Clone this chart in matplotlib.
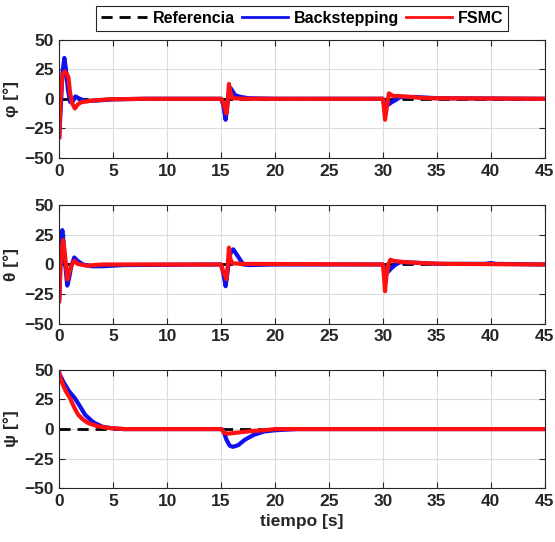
import matplotlib
matplotlib.use('Agg')
import matplotlib.pyplot as plt

plt.rcParams['font.family'] = ['Liberation Sans', 'DejaVu Sans']
plt.rcParams['font.weight'] = 'bold'

# phi
phi_bs_t = [0, 0.15, 0.3, 0.47, 0.6, 0.8, 1.0, 1.2, 1.5, 1.9, 2.5, 3.5, 5, 8, 15, 15.2, 15.42, 15.55, 15.7, 15.9, 16.3, 16.75, 17.5, 20, 30, 30.1, 30.25, 30.5, 30.8, 31.2, 31.6, 33, 35, 45]
phi_bs_y = [-32, -5, 22, 34.5, 26, 8, -2.5, -3, 2, 0, -2, -1.5, -0.5, 0, 0, -5, -17.7, -8, 5, 8.8, 3, 1.7, 0.5, 0, 0, -3, -6.8, -5, -3, -1, 1.5, 1.5, 0.5, 0]
phi_fs_t = [0, 0.12, 0.3, 0.5, 0.7, 0.85, 1.0, 1.2, 1.45, 1.7, 2.0, 3.0, 4.5, 8, 15, 15.2, 15.5, 15.6, 15.73, 15.85, 16.04, 17, 30, 30.1, 30.2, 30.35, 30.56, 30.9, 32, 34, 45]
phi_fs_y = [-32.5, 0, 20, 23, 21, 18, 5, -4, -8.2, -5, -3, -1.5, -0.5, 0, 0, -3, -12.5, -4, 12.5, 6, 0.5, 0, 0, -8, -17.7, -8, 4.6, 2.5, 2, 0.5, 0]

# theta
th_bs_t = [0, 0.1, 0.28, 0.4, 0.55, 0.74, 0.9, 1.1, 1.39, 1.7, 2.2, 3.0, 4.0, 6, 15, 15.2, 15.42, 15.55, 15.75, 15.9, 16.13, 17.06, 17.6, 20, 30, 30.1, 30.2, 30.5, 30.8, 31.2, 31.6, 33, 35, 39.5, 40, 40.5, 45]
th_bs_y = [-28, 0, 29, 18, 0, -17.8, -12, -2, 5.9, 3, 0, -1.5, -1.5, -0.5, 0, -7, -18.4, -10, 5, 10, 12.8, 0, -0.5, 0, 0, -3, -8, -6, -3, 0, 2, 1.5, 0.5, 0.5, 1.2, 0.5, 0]
th_fs_t = [0, 0.1, 0.25, 0.37, 0.5, 0.77, 0.95, 1.15, 1.4, 1.7, 2.5, 4, 15, 15.15, 15.5, 15.6, 15.73, 15.85, 16.04, 17, 30, 30.1, 30.2, 30.3, 30.5, 30.7, 31, 32, 34, 36, 45]
th_fs_y = [-31, -5, 15, 20.6, 10, -12.8, -6, 0, 3, 0.5, -1, 0, 0, -5, -12.3, -3, 14.2, 5, 1, 0.5, 0, -10, -22.6, -12, 0, 4, 3, 2, 1, 0.5, 0]

# psi
psi_bs_t = [0, 0.37, 0.9, 1.45, 2.0, 2.4, 3.0, 3.3, 4.0, 5, 6, 15, 15.2, 15.5, 15.8, 16.1, 16.6, 17.2, 18, 19, 20, 22, 45]
psi_bs_y = [47, 40, 32, 26, 18, 12, 7, 5, 2, 0.5, 0, 0, -1, -9, -14, -15, -13.5, -9, -5, -2, -1, 0, 0]
psi_fs_t = [0, 0.22, 0.6, 1.0, 1.4, 1.76, 2.2, 2.7, 3.5, 4.5, 6, 15, 15.3, 15.6, 16, 17, 18, 19, 20, 45]
psi_fs_y = [47, 40, 32, 26, 18, 12, 8, 5, 2.5, 1, 0, 0, -3, -4, -3.5, -2.5, -1.5, -1, 0, 0]

ref_t = [0, 45]
ref_y = [0, 0]

x_ticks = [0, 5, 10, 15, 20, 25, 30, 35, 40, 45]
y_ticks = [-50, -25, 0, 25, 50]
y_labels = ['φ [°]', 'θ [°]', 'ψ [°]']

series = [(phi_bs_t, phi_bs_y, phi_fs_t, phi_fs_y),
          (th_bs_t, th_bs_y, th_fs_t, th_fs_y),
          (psi_bs_t, psi_bs_y, psi_fs_t, psi_fs_y)]

fig = plt.figure(figsize=(5.55, 5.42), dpi=100)
bottoms = [0.7085, 0.4028, 0.0991]
axes = []
for i in range(3):
    ax = fig.add_axes([0.1068, bottoms[i], 0.8746, 0.2185])
    bt, by, ft, fy = series[i]
    l0, = ax.plot(ref_t, ref_y, color='black', ls='--', lw=2, dashes=(4, 2.5), label='Referencia')
    l1, = ax.plot(bt, by, color='#1010ee', lw=3.0, label='Backstepping')
    l2, = ax.plot(ft, fy, color='#ff1010', lw=3.0, label='FSMC')
    ax.set_xlim(0, 45)
    ax.set_ylim(-50, 50)
    ax.set_xticks(x_ticks)
    ax.set_yticks(y_ticks)
    ax.grid(True, color='#dcdcdc', lw=0.8)
    ax.tick_params(direction='in', top=True, right=True, length=4, labelsize=12.5,
                   color='#262626', labelcolor='#262626', pad=4)
    for s in ax.spines.values():
        s.set_color('#262626')
        s.set_linewidth(0.8)
    ax.set_ylabel(y_labels[i], fontsize=12.5, fontweight='bold', color='#262626', labelpad=4)
    for lab in ax.get_xticklabels() + ax.get_yticklabels():
        lab.set_fontweight('bold')
    axes.append(ax)

axes[2].set_xlabel('tiempo [s]', fontsize=12.5, fontweight='bold', color='#262626')

leg = fig.legend([l0, l1, l2], ['Referencia', 'Backstepping', 'FSMC'], ncol=3,
                 loc='lower center', bbox_to_anchor=(302 / 555, 1 - 34 / 542),
                 fancybox=False, edgecolor='#262626', fontsize=11.5, handlelength=2.9,
                 columnspacing=0.45, handletextpad=0.35, borderpad=0.3, borderaxespad=0.2,
                 framealpha=1)
for t in leg.get_texts():
    t.set_fontweight('bold')
for h in leg.get_lines():
    h.set_linewidth(2)
leg.get_frame().set_linewidth(0.8)

fig.savefig('out.png', dpi=100)
